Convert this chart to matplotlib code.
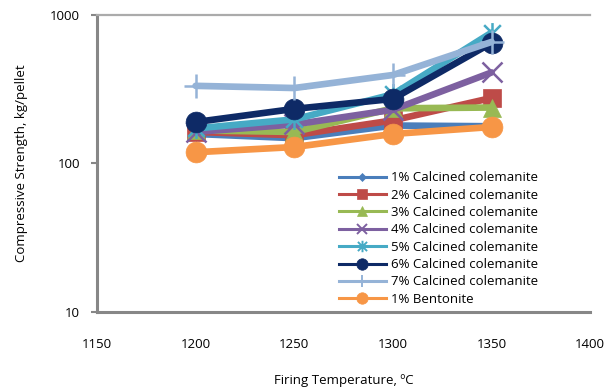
import matplotlib
matplotlib.use("Agg")
import matplotlib.pyplot as plt
from matplotlib.path import Path
from matplotlib.lines import Line2D

plt.rcParams['font.family'] = ['Open Sans', 'DejaVu Sans']

temperature = [1200, 1250, 1300, 1350]
series_names = [
    "1% Calcined colemanite",
    "2% Calcined colemanite",
    "3% Calcined colemanite",
    "4% Calcined colemanite",
    "5% Calcined colemanite",
    "6% Calcined colemanite",
    "7% Calcined colemanite",
    "1% Bentonite",
]
cc1 = [158, 148, 180, 178]
cc2 = [163, 155, 195, 276]
cc3 = [167, 163, 235, 238]
cc4 = [163, 183, 230, 410]
cc5 = [172, 198, 292, 760]
cc6 = [190, 233, 272, 648]
cc7 = [333, 322, 394, 658]
bentonite = [119, 129, 158, 176]
series_values = [cc1, cc2, cc3, cc4, cc5, cc6, cc7, bentonite]

x_ticks = [1150, 1200, 1250, 1300, 1350, 1400]
y_ticks = [10, 100, 1000]

# asterisk marker: an "x" crossed by a vertical stroke
asterisk = Path(
    [(-1, -1), (1, 1), (-1, 1), (1, -1), (0, -1.25), (0, 1.25)],
    [Path.MOVETO, Path.LINETO, Path.MOVETO, Path.LINETO, Path.MOVETO, Path.LINETO],
)

colors = ["#4A7EBB", "#BE4B48", "#98B954", "#7D60A0", "#46AAC5",
          "#0E2A66", "#95B3D7", "#F79646"]
markers = ["D", "s", "^", "x", asterisk, "o", "+", "o"]
msizes = [7, 13, 13, 14, 15, 15, 17, 15]
hollow = [False, False, False, True, True, False, True, False]

fig = plt.figure(figsize=(6.06, 3.92), dpi=100)
ax = fig.add_axes([0.160, 0.204, 0.814, 0.758])

handles = []
for name, vals, c, m, ms, h in zip(series_names, series_values, colors,
                                   markers, msizes, hollow):
    kw = dict(color=c, marker=m, markeredgecolor=c)
    if h:
        kw.update(markerfacecolor="none", markeredgewidth=1.8)
    else:
        kw.update(markerfacecolor=c, markeredgewidth=0.5)
    ax.plot(temperature, vals, lw=4.8, ms=ms, solid_joinstyle="round",
            solid_capstyle="round", **kw)
    lkw = dict(kw)
    if h:
        lkw["markeredgewidth"] = 1.4
    handles.append(Line2D([], [], lw=2.2, ms=ms * 0.55, label=name, **lkw))

ax.set_yscale("log")
ax.set_xlim(1150, 1400)
ax.set_ylim(10, 1000)
ax.set_xticks(x_ticks)
ax.set_xticklabels([str(t) for t in x_ticks])
ax.set_yticks(y_ticks)
ax.set_yticklabels([str(t) for t in y_ticks])
ax.yaxis.set_minor_locator(matplotlib.ticker.NullLocator())

for side in ["left", "bottom"]:
    ax.spines[side].set_color("#878787")
    ax.spines[side].set_linewidth(2.2)
ax.spines["top"].set_color("#ababab")
ax.spines["top"].set_linewidth(1.6)
ax.spines["right"].set_visible(False)

ax.tick_params(axis="x", length=0, pad=19, labelsize=9.5, colors="black")
ax.tick_params(axis="y", length=4, width=1.5, color="#878787", pad=8,
               labelsize=9.5, labelcolor="black")

ax.set_xlabel("Firing Temperature, ºC", fontsize=9.5, labelpad=16)
ax.set_ylabel("Compressive Strength, kg/pellet", fontsize=9.5, labelpad=16)

fig.legend(handles=handles, loc="lower left",
           bbox_to_anchor=(0.548, 0.203), frameon=False, fontsize=9.5,
           handlelength=3.6, handletextpad=0.4, labelspacing=0.33,
           borderpad=0.0)

fig.savefig("out.png", dpi=100)
